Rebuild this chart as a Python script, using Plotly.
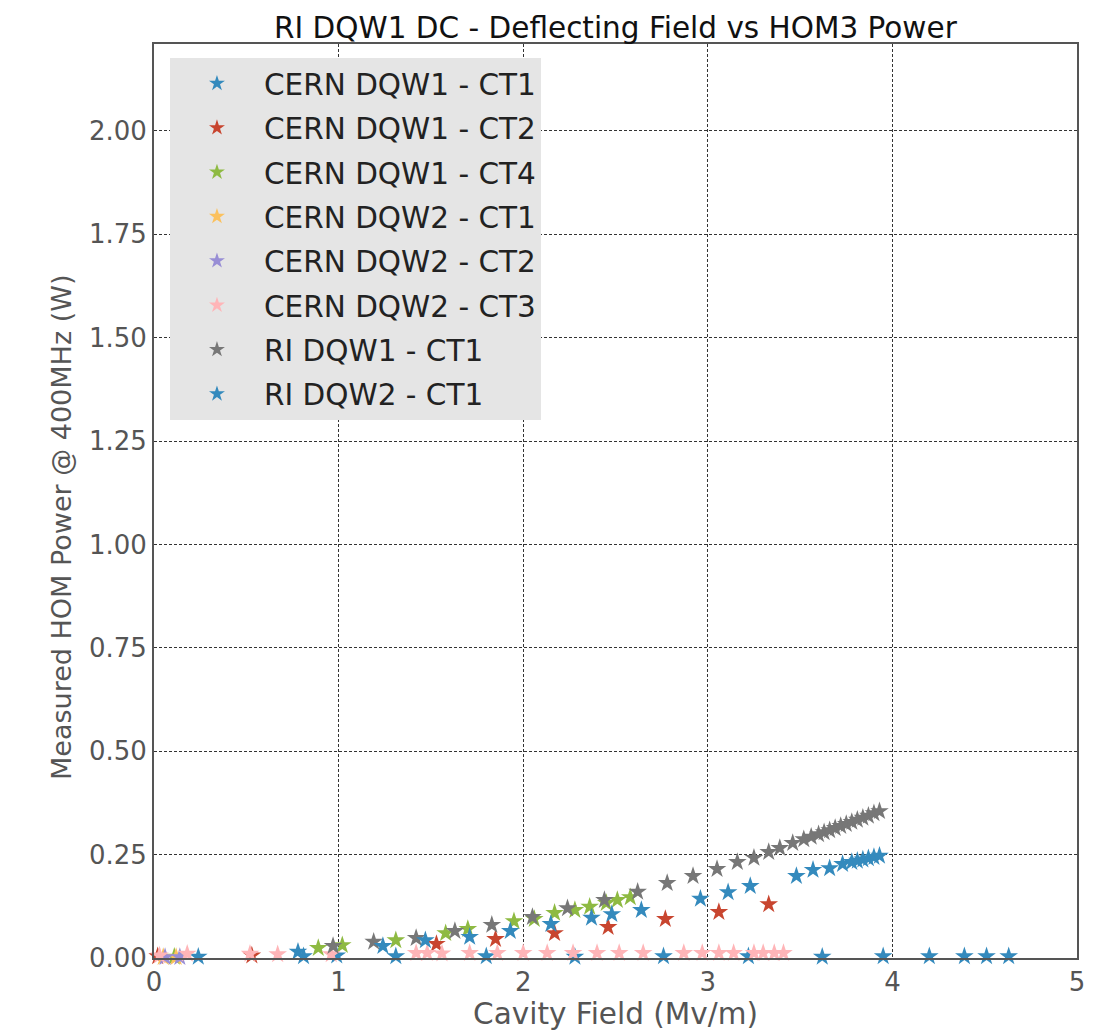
import plotly.graph_objects as go

# ---- data ----
cern_dqw1_ct1_x = [0.24, 0.81, 0.99, 1.31, 1.80, 2.28, 2.76, 3.22, 3.62, 3.95, 4.20, 4.39, 4.51, 4.63]
cern_dqw1_ct1_y = [0.003, 0.004, 0.006, 0.004, 0.004, 0.003, 0.004, 0.004, 0.003, 0.004, 0.004, 0.004, 0.004, 0.004]

cern_dqw1_ct2_x = [0.02, 0.53, 1.53, 1.85, 2.17, 2.46, 2.77, 3.06, 3.33]
cern_dqw1_ct2_y = [0.004, 0.006, 0.034, 0.046, 0.060, 0.075, 0.094, 0.111, 0.130]

cern_dqw1_ct4_x = [0.11, 0.89, 1.02, 1.31, 1.58, 1.70, 1.95, 2.06, 2.17, 2.28, 2.36, 2.45, 2.51, 2.58]
cern_dqw1_ct4_y = [0.003, 0.024, 0.031, 0.043, 0.060, 0.070, 0.089, 0.094, 0.109, 0.116, 0.124, 0.133, 0.140, 0.147]

cern_dqw2_ct1_x = [0.05, 0.12]
cern_dqw2_ct1_y = [0.002, 0.002]

cern_dqw2_ct2_x = [0.06, 0.14]
cern_dqw2_ct2_y = [0.002, 0.002]

cern_dqw2_ct3_x = [0.03, 0.18, 0.52, 0.67, 0.96, 1.42, 1.48, 1.56, 1.71, 1.86, 2.00, 2.13,
                   2.27, 2.40, 2.52, 2.65, 2.87, 2.97, 3.06, 3.14, 3.25, 3.30, 3.36, 3.41]
cern_dqw2_ct3_y = [0.006, 0.010, 0.010, 0.009, 0.009, 0.012, 0.012, 0.011, 0.012, 0.012, 0.012, 0.012,
                   0.012, 0.012, 0.012, 0.012, 0.012, 0.012, 0.012, 0.012, 0.012, 0.012, 0.012, 0.012]

ri_dqw1_ct1_x = [0.97, 1.19, 1.42, 1.63, 1.83, 2.05, 2.24, 2.44, 2.62, 2.78, 2.92, 3.05, 3.16, 3.25,
                 3.33, 3.39, 3.46, 3.52, 3.56, 3.60, 3.63, 3.66, 3.69, 3.72, 3.75, 3.78, 3.81, 3.84,
                 3.87, 3.90, 3.93]
ri_dqw1_ct1_y = [0.029, 0.039, 0.048, 0.065, 0.080, 0.099, 0.120, 0.140, 0.160, 0.181, 0.198, 0.215,
                 0.232, 0.242, 0.256, 0.266, 0.278, 0.287, 0.293, 0.299, 0.304, 0.309, 0.314, 0.319,
                 0.324, 0.329, 0.334, 0.339, 0.344, 0.350, 0.355]

ri_dqw2_ct1_x = [0.78, 1.24, 1.47, 1.71, 1.93, 2.15, 2.37, 2.48, 2.64, 2.96, 3.11, 3.23, 3.48, 3.57,
                 3.66, 3.73, 3.78, 3.81, 3.84, 3.87, 3.90, 3.93]
ri_dqw2_ct1_y = [0.015, 0.029, 0.043, 0.051, 0.065, 0.082, 0.097, 0.106, 0.116, 0.143, 0.159, 0.174,
                 0.198, 0.213, 0.217, 0.227, 0.232, 0.235, 0.238, 0.241, 0.244, 0.247]

series = [
    ("CERN DQW1 - CT1", cern_dqw1_ct1_x, cern_dqw1_ct1_y, "#348ABD"),
    ("CERN DQW1 - CT2", cern_dqw1_ct2_x, cern_dqw1_ct2_y, "#C8452F"),
    ("CERN DQW1 - CT4", cern_dqw1_ct4_x, cern_dqw1_ct4_y, "#8EBA42"),
    ("CERN DQW2 - CT1", cern_dqw2_ct1_x, cern_dqw2_ct1_y, "#FBC15E"),
    ("CERN DQW2 - CT2", cern_dqw2_ct2_x, cern_dqw2_ct2_y, "#988ED5"),
    ("CERN DQW2 - CT3", cern_dqw2_ct3_x, cern_dqw2_ct3_y, "#FFB5B8"),
    ("RI DQW1 - CT1", ri_dqw1_ct1_x, ri_dqw1_ct1_y, "#777777"),
    ("RI DQW2 - CT1", ri_dqw2_ct1_x, ri_dqw2_ct1_y, "#348ABD"),
]

x_ticks = [0, 1, 2, 3, 4, 5]
y_ticks = [0.00, 0.25, 0.50, 0.75, 1.00, 1.25, 1.50, 1.75, 2.00]

fig = go.Figure()
for i, (name, xs, ys, col) in enumerate(series):
    fig.add_trace(go.Scatter(
        x=xs, y=ys, mode="markers", name=name, legendgroup=f"g{i}",
        marker=dict(symbol="star", size=14, color=col, line=dict(width=0)),
        cliponaxis=False,
    ))

font_family = "DejaVu Sans"
axis_common = dict(
    showgrid=True, gridcolor="#333333", gridwidth=1, griddash="3px,2px",
    showline=True, linecolor="#555555", linewidth=2, mirror=True,
    zeroline=False, ticks="", tickfont=dict(size=26, color="#555555", family=font_family),
)

fig.update_layout(
    width=1096, height=1034,
    margin=dict(l=154, r=19, t=44, b=76),
    paper_bgcolor="white", plot_bgcolor="white",
    font=dict(family=font_family),
    title=dict(text="RI DQW1 DC - Deflecting Field vs HOM3 Power", x=0.5615, xanchor="center",
               y=0.973, yanchor="middle", font=dict(size=29.5, color="#111111", family=font_family)),
    xaxis=dict(range=[0, 5], tickvals=x_ticks, ticktext=[str(v) for v in x_ticks],
               title=dict(text="Cavity Field (Mv/m)", font=dict(size=29.5, color="#555555"), standoff=3),
               **axis_common),
    yaxis=dict(range=[0, 2.21], tickvals=y_ticks, ticktext=[f"{v:.2f}" for v in y_ticks],
               **axis_common),
    legend=dict(x=0.0173, y=0.985, xanchor="left", yanchor="top", bgcolor="#E5E5E5",
                font=dict(size=29.5, color="#222222", family=font_family),
                tracegroupgap=3, itemwidth=84, traceorder="grouped", itemsizing="constant"),
    showlegend=True,
    annotations=[dict(text="Measured HOM Power @ 400MHz (W)", textangle=-90,
                      xref="paper", yref="paper", x=-0.0997, y=0.4716,
                      xanchor="center", yanchor="middle", showarrow=False,
                      font=dict(size=27, color="#555555", family=font_family))],
)

fig.write_html("out.html")
